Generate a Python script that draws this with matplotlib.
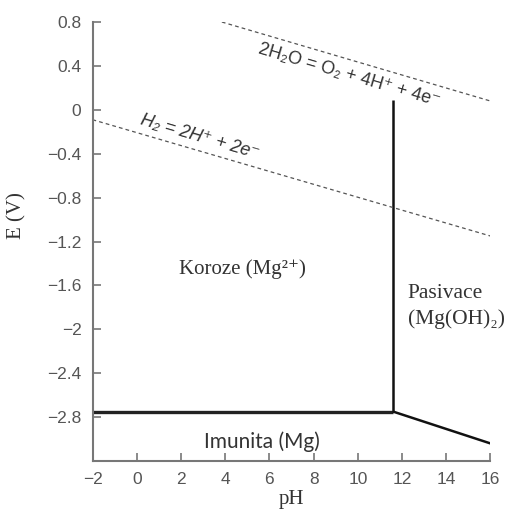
import matplotlib.pyplot as plt
import numpy as np

# Data (for Mg)
x_ticks = [-2, 0, 2, 4, 6, 8, 10, 12, 14, 16]
y_ticks = [-2.8, -2.4, -2.0, -1.6, -1.2, -0.8, -0.4, 0.0, 0.4, 0.8]

# solid phase boundaries
mg_ph = [-2, 11.6]
mg_e = [-2.75, -2.75]
oh_ph = [11.6, 11.6]
oh_e = [-2.75, 0.09]
mgoh_ph = [11.6, 16]
mgoh_e = [-2.75, -3.04]

# water stability lines (dashed)
h2_ph = [-2, 16]
h2_e = [-0.09, -1.15]
o2_ph = [3.85, 16]
o2_e = [0.80, 0.08]

serif = ['Liberation Serif', 'DejaVu Serif']
sans = ['Liberation Sans', 'DejaVu Sans']

fig = plt.figure(figsize=(5.12, 5.12), dpi=100)
ax = fig.add_axes([0.1807, 0.0996, 0.7773, 0.8574])

ax.plot(mg_ph, mg_e, color='#222222', lw=2.4, solid_capstyle='butt')
ax.plot(oh_ph, oh_e, color='#111111', lw=1.8, solid_capstyle='butt')
ax.plot(mgoh_ph, mgoh_e, color='#111111', lw=1.8, solid_capstyle='butt')
ax.plot(h2_ph, h2_e, color='#555555', lw=0.9, ls=(0, (3, 2.5)))
ax.plot(o2_ph, o2_e, color='#555555', lw=0.9, ls=(0, (3, 2.5)))

ax.set_xlim(-2, 16)
ax.set_ylim(-3.2, 0.8)

for s in ['top', 'right']:
    ax.spines[s].set_visible(False)
for s in ['left', 'bottom']:
    ax.spines[s].set_color('#777777')
    ax.spines[s].set_linewidth(1.5)

ax.set_xticks(x_ticks)
ax.set_yticks(y_ticks)
ax.set_xticklabels([f'{v:g}'.replace('-', '\u2212') for v in x_ticks])
ax.set_yticklabels([f'{v:g}'.replace('-', '\u2212') for v in y_ticks])
ax.tick_params(direction='in', length=6, width=1.2, color='#777777',
               labelcolor='#555555', labelsize=12.5)
ax.tick_params(axis='y', pad=8)
ax.tick_params(axis='x', pad=8)
for lab in ax.get_xticklabels() + ax.get_yticklabels():
    lab.set_family(sans)

ax.set_xlabel('pH', family=serif, fontsize=15, color='#333333', labelpad=2)
ax.set_ylabel('E (V)', family=serif, fontsize=15, color='#333333')
ax.yaxis.set_label_coords(-0.165, 0.56)

# region labels
ax.text(4.8, -1.455, 'Koroze (Mg\u00b2\u207a)', family=serif,
        fontsize=15, color='#333333', ha='center', va='center')
ax.text(12.25, -1.79, 'Pasivace\n(Mg(OH)\u2082)', family=serif,
        fontsize=15.5, color='#333333', ha='left', va='center', linespacing=1.45)
ax.text(5.64, -3.02, 'Imunita (Mg)', family='Lato', fontsize=15,
        color='#333333', ha='center', va='center')

# reaction labels along dashed lines
ax.text(2.87, -0.245, 'H\u2082 = 2H\u207a + 2e\u207b',
        family=sans, style='italic', fontsize=13, color='#333333',
        ha='center', va='center', rotation=-16.4, rotation_mode='anchor')
ax.text(9.6, 0.315, '2H\u2082O = O\u2082 + 4H\u207a + 4e\u207b',
        family=sans, fontsize=13, color='#333333',
        ha='center', va='center', rotation=-16.4, rotation_mode='anchor')

fig.savefig('out.png', dpi=100)
